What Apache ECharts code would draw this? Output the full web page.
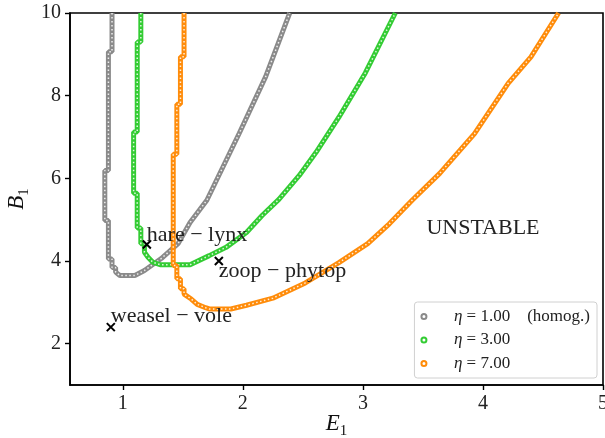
<!DOCTYPE html>
<html>
<head>
<meta charset="utf-8">
<script src="https://cdn.jsdelivr.net/npm/echarts@6/dist/echarts.min.js"></script>
<style>
  html, body { margin: 0; padding: 0; background: #fff; }
  #chart { width: 605px; height: 438px; }
</style>
</head>
<body>
<div id="chart"></div>
<script>
// stability boundaries (E1, B1)
const grayE = [0.91, 0.91, 0.88, 0.88, 0.85, 0.85, 0.88, 0.88, 0.91, 0.91, 0.94, 0.94, 0.975, 1.10, 1.18, 1.32, 1.46, 1.56, 1.70, 1.97, 2.19, 2.39];
const grayB = [10, 9.06, 9.06, 6.19, 6.19, 4.98, 4.98, 4.05, 4.05, 3.84, 3.84, 3.73, 3.65, 3.65, 3.77, 4.06, 4.42, 4.93, 5.47, 7.09, 8.46, 10];

const greenE = [1.15, 1.15, 1.12, 1.12, 1.09, 1.09, 1.12, 1.12, 1.15, 1.15, 1.18, 1.18, 1.21, 1.25, 1.31, 1.56, 1.72, 1.86, 2.03, 2.16, 2.30, 2.47, 2.61, 2.80, 3.02, 3.27];
const greenB = [10, 9.30, 9.30, 7.12, 7.12, 5.64, 5.64, 4.80, 4.80, 4.42, 4.42, 4.21, 4.09, 3.97, 3.91, 3.91, 4.13, 4.33, 4.69, 5.10, 5.49, 6.07, 6.63, 7.48, 8.55, 10];

const orangeE = [1.51, 1.51, 1.48, 1.48, 1.45, 1.45, 1.42, 1.42, 1.45, 1.45, 1.48, 1.48, 1.51, 1.51, 1.57, 1.62, 1.69, 1.72, 1.90, 2.03, 2.25, 2.52, 2.80, 3.04, 3.22, 3.41, 3.64, 3.93, 4.21, 4.40, 4.63];
const orangeB = [10, 8.94, 8.94, 7.79, 7.79, 6.58, 6.58, 3.89, 3.89, 3.57, 3.57, 3.33, 3.33, 3.20, 3.08, 2.95, 2.87, 2.84, 2.84, 2.93, 3.10, 3.47, 3.96, 4.42, 4.90, 5.47, 6.12, 7.08, 8.30, 8.94, 10];

const seriesNames = ["η = 1.00 (homog.)", "η = 3.00", "η = 7.00"];
const seriesColors = ["#8a8a8a", "#33cc33", "#ff8c0a"];

// known systems
const pointNames = ["weasel − vole", "hare − lynx", "zoop − phytop"];
const pointE = [0.9, 1.2, 1.8];
const pointB = [2.4, 4.4, 4.0];

const unstableAt = [4.0, 4.8];

const xTicks = [1, 2, 3, 4, 5];
const yTicks = [2, 4, 6, 8, 10];

const FONT = "Liberation Serif";
const zip = (a, b) => a.map((v, i) => [v, b[i]]);
const curves = [zip(grayE, grayB), zip(greenE, greenB), zip(orangeE, orangeB)];

const chart = echarts.init(document.getElementById("chart"));

const nameRich = {
  i: { fontFamily: FONT, fontStyle: "italic", fontSize: 23, lineHeight: 30, color: "#111" },
  s: { fontFamily: FONT, fontSize: 15, lineHeight: 30, verticalAlign: "bottom", color: "#111" }
};

const lineSeries = [];
curves.forEach((d, k) => {
  lineSeries.push({
    name: seriesNames[k], type: "line", data: d, showSymbol: false, symbol: "emptyCircle",
    lineStyle: { color: seriesColors[k], width: 5 },
    itemStyle: { color: seriesColors[k] }, z: 2 + k * 2
  });
  lineSeries.push({
    type: "line", data: d, showSymbol: false, silent: true,
    lineStyle: { color: "#fff", width: 1.5, type: [1.5, 2.5], opacity: 0.85 }, z: 3 + k * 2
  });
});

const labelOffsets = [[0, -11], [0, -9], [0, 10]];

const option = {
  animation: false,
  grid: {
    left: 70, right: 2, top: 13, bottom: 53, outerBoundsMode: "none", containLabel: false,
    show: true, borderColor: "#000", borderWidth: 1.6
  },
  xAxis: {
    type: "value", min: 0.56, max: 5,
    name: "{i|E}{s|1}", nameLocation: "middle", nameGap: 24, nameMoveOverlap: false,
    nameTextStyle: { rich: nameRich },
    axisLine: { lineStyle: { color: "#000", width: 1.6 } },
    axisTick: { length: 5, lineStyle: { color: "#000", width: 1.4 }, customValues: xTicks },
    axisLabel: { customValues: xTicks, fontFamily: FONT, fontSize: 20, color: "#222", margin: 9 },
    splitLine: { show: false }
  },
  yAxis: {
    type: "value", min: 1, max: 10,
    name: "{i|B}{s|1}", nameLocation: "middle", nameGap: 38, nameMoveOverlap: false,
    nameTextStyle: { rich: nameRich },
    axisLine: { lineStyle: { color: "#000", width: 1.6 } },
    axisTick: { length: 5, lineStyle: { color: "#000", width: 1.4 }, customValues: yTicks },
    axisLabel: { customValues: yTicks, fontFamily: FONT, fontSize: 20, color: "#222", margin: 9 },
    splitLine: { show: false }
  },
  legend: {
    data: seriesNames.map(n => ({ name: n, icon: "emptyCircle" })),
    orient: "vertical", right: 8, bottom: 60,
    itemWidth: 32, itemHeight: 5, itemGap: 6.5, padding: [6, 7, 6, 6],
    borderColor: "#d0d0d0", borderWidth: 1, borderRadius: 3, backgroundColor: "#fff",
    itemStyle: { borderWidth: 1.2 },
    textStyle: {
      fontFamily: FONT, fontSize: 17, color: "#222", lineHeight: 17,
      rich: {
        p: { width: 9, lineHeight: 17 },
        i: { fontFamily: FONT, fontStyle: "italic", fontSize: 17, lineHeight: 17, color: "#222" },
        t: { fontFamily: FONT, fontSize: 17, lineHeight: 17, color: "#222" },
        g: { width: 17, lineHeight: 17 }
      }
    },
    formatter: n => {
      const parts = n.split(" (");
      const head = "{p| }{i|η}{t|" + parts[0].slice(1) + "}";
      return parts.length > 1 ? head + "{g| }{t|(" + parts[1] + "}" : head;
    }
  },
  series: lineSeries.concat([{
    type: "scatter", z: 10,
    data: pointE.map((e, i) => ({
      value: [e, pointB[i]], name: pointNames[i],
      label: { offset: labelOffsets[i] }
    })),
    symbol: "path://M0,0L10,10M10,0L0,10", symbolSize: 8,
    itemStyle: { color: "rgba(0,0,0,0)", borderColor: "#000", borderWidth: 2, opacity: 1 },
    label: {
      show: true, position: "inside", align: "left", verticalAlign: "middle",
      formatter: p => p.name, fontFamily: FONT, fontSize: 22, color: "#222"
    }
  }])
};

chart.setOption(option);

const up = chart.convertToPixel({ gridIndex: 0 }, unstableAt);
chart.setOption({
  graphic: [{
    type: "text", x: up[0], y: up[1], z: 20,
    style: { text: "UNSTABLE", fontFamily: FONT, fontSize: 22, fill: "#222", align: "center", verticalAlign: "middle" }
  }]
});

window.addEventListener("resize", () => chart.resize());
</script>
</body>
</html>
